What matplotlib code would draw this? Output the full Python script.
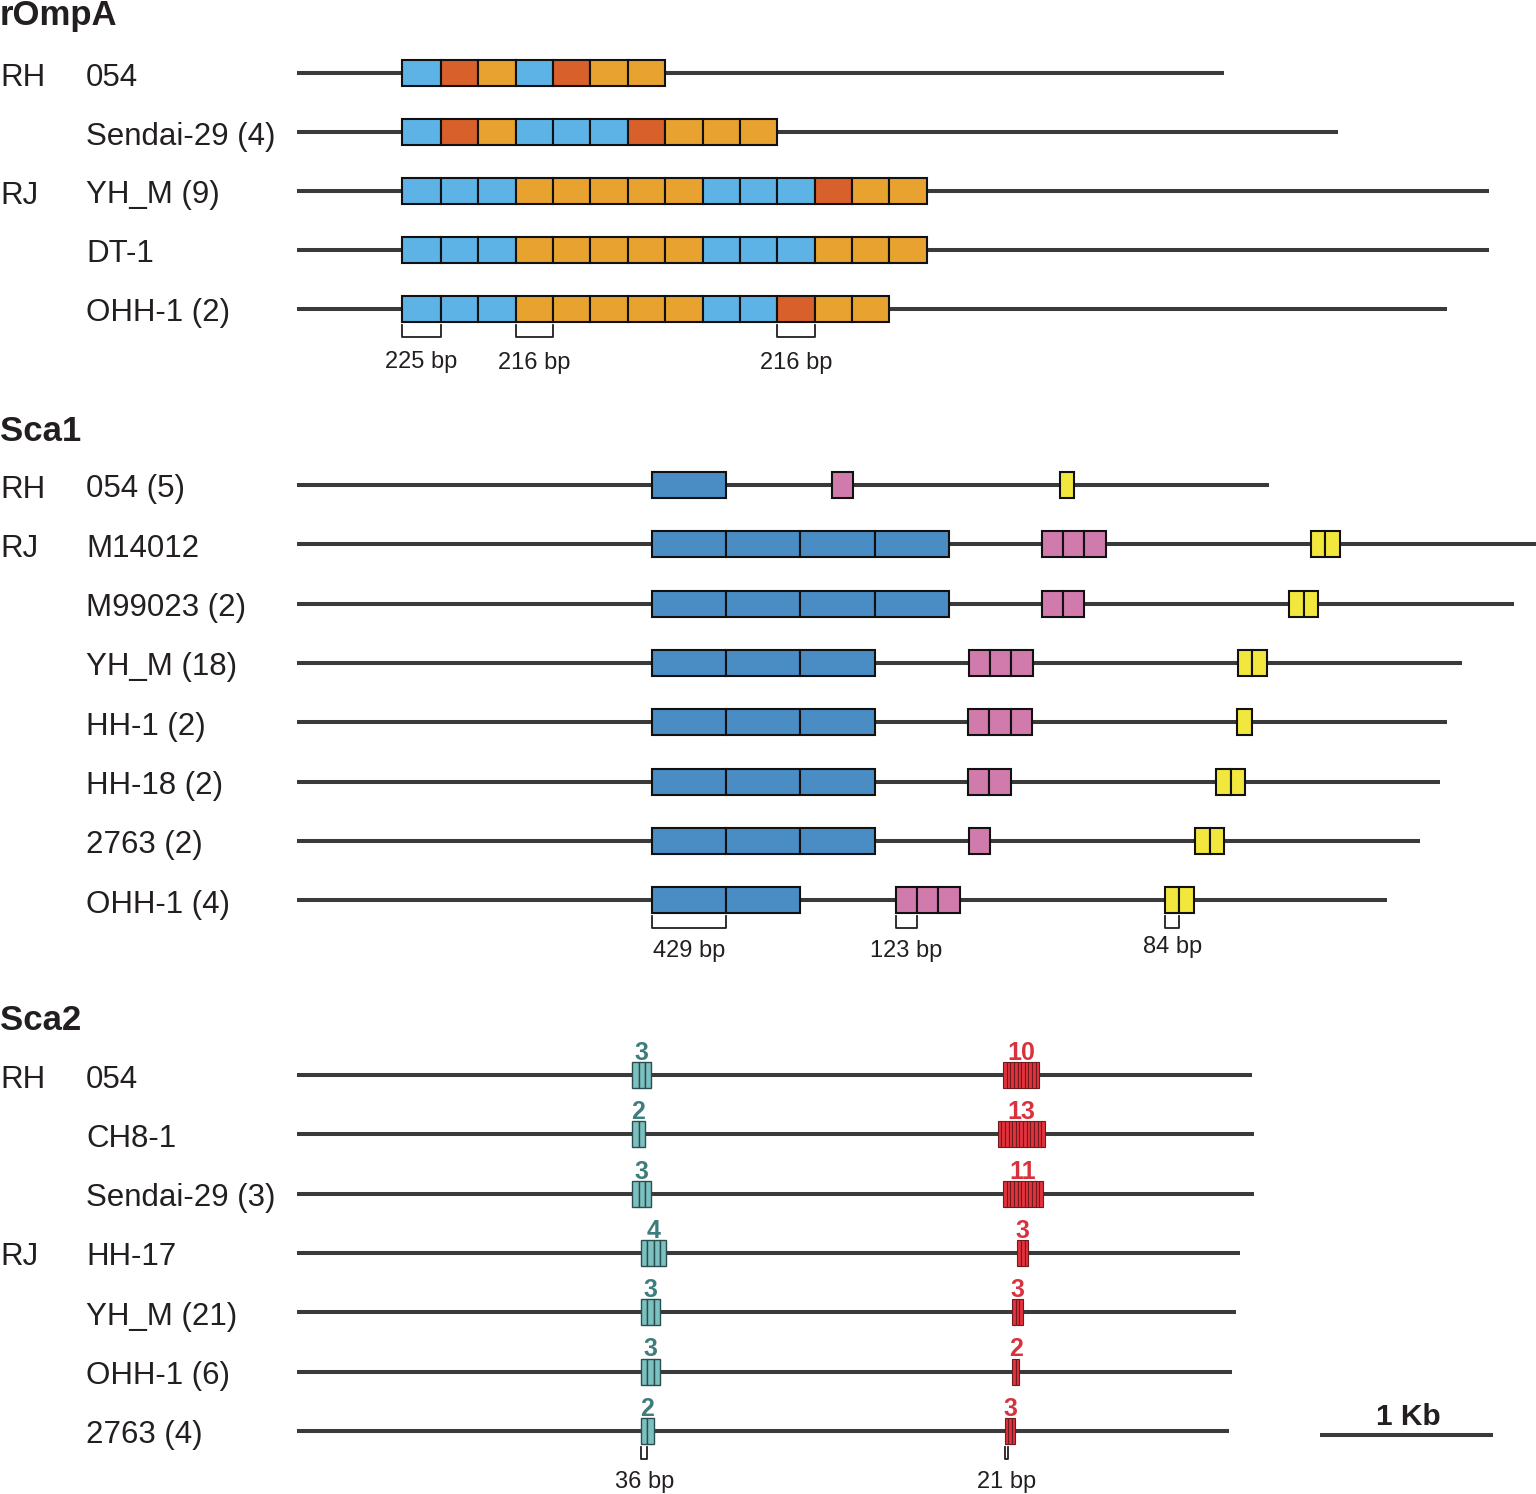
import matplotlib
matplotlib.use('Agg')
import matplotlib.pyplot as plt
from matplotlib.patches import Rectangle

plt.rcParams['font.family'] = ['Liberation Sans', 'DejaVu Sans']

# ---- rOmpA ----
romp_groups = ['RH', '', 'RJ', '', '']
romp_strains = ['054', 'Sendai-29 (4)', 'YH_M (9)', 'DT-1', 'OHH-1 (2)']
romp_len = [5360, 6020, 6890, 6890, 6650]
romp_start = 607
romp_first_bp = 225
romp_unit_bp = 216
romp_repeats = ['BROBROO', 'BROBBBROOO', 'BBBOOOOOBBBROO',
                'BBBOOOOOBBBOOO', 'BBBOOOOOBBROO']

# ---- Sca1 ----
sca1_groups = ['RH', 'RJ', '', '', '', '', '', '']
sca1_strains = ['054 (5)', 'M14012', 'M99023 (2)', 'YH_M (18)', 'HH-1 (2)',
                'HH-18 (2)', '2763 (2)', 'OHH-1 (4)']
sca1_len = [5618, 7300, 7035, 6734, 6647, 6607, 6491, 6301]
sca1_a_start = [2052] * 8
sca1_a_n = [1, 4, 4, 3, 3, 3, 3, 2]
sca1_b_start = [3092, 4306, 4306, 3884, 3879, 3879, 3884, 3462]
sca1_b_n = [1, 3, 2, 3, 3, 2, 1, 3]
sca1_c_start = [4410, 5861, 5734, 5439, 5434, 5312, 5191, 5017]
sca1_c_n = [1, 2, 2, 2, 1, 2, 2, 2]
sca1_unit_bp = [429, 123, 84]

# ---- Sca2 ----
sca2_groups = ['RH', '', '', 'RJ', '', '', '']
sca2_strains = ['054', 'CH8-1', 'Sendai-29 (3)', 'HH-17', 'YH_M (21)',
                'OHH-1 (6)', '2763 (4)']
sca2_len = [5520, 5532, 5532, 5451, 5428, 5405, 5387]
sca2_d_start = [1938, 1938, 1938, 1990, 1990, 1990, 1990]
sca2_d_n = [3, 2, 3, 4, 3, 3, 2]
sca2_e_start = [4081, 4050, 4081, 4164, 4133, 4133, 4090]
sca2_e_n = [10, 13, 11, 3, 3, 2, 3]
sca2_unit_bp = [36, 21]

# layout (pixels; 173 px per kb, genes start at x=297)
PX_KB = 173.0
X0 = 297.0
W, H = 1536, 1494
BOX_H = 26
TXT = '#231f20'
LINE = '#3a3a3a'

romp_col = {'B': '#5db3e6', 'R': '#d8602a', 'O': '#e8a22f'}
sca1_col = ['#4a8cc4', '#d17bad', '#f2e73c']
teal, teal_txt = '#7cc1c1', '#3f7d7d'
red, red_txt = '#e3323c', '#d8323e'

fig = plt.figure(figsize=(W / 100, H / 100), dpi=100)
ax = fig.add_axes([0, 0, 1, 1])
ax.set_xlim(-X0 / PX_KB * 1000, (W - X0) / PX_KB * 1000)
ax.set_ylim(H, 0)
ax.axis('off')

bp_per_px = 1000 / PX_KB


def gene_line(y, length):
    ax.plot([0, length], [y, y], color=LINE, lw=2.9, solid_capstyle='butt', zorder=1)


def blocks(y, start, widths, colors, edge='#111111', lw=1.5):
    x = start
    for w, c in zip(widths, colors):
        ax.add_patch(Rectangle((x, y - BOX_H / 2), w, BOX_H, facecolor=c,
                               edgecolor=edge, lw=lw, zorder=2))
        x += w
    return x


def bracket(y, x1, x2, label, lab_dy=58):
    ax.plot([x1, x1, x2, x2], [y + 16, y + 28, y + 28, y + 16], color=TXT, lw=1.3, zorder=3)
    ax.text((x1 + x2) / 2, y + lab_dy, label, ha='center', va='baseline',
            fontsize=17, color=TXT)


def labels(ys, groups, strains):
    for y, g, s in zip(ys, groups, strains):
        if g:
            ax.text(0 - X0 * bp_per_px, y + 12.5, g, ha='left', va='baseline',
                    fontsize=22.5, color=TXT)
        ax.text((86 - X0) * bp_per_px, y + 12.5, s, ha='left', va='baseline',
                fontsize=22.5, color=TXT)


def title(y, s):
    ax.text(-X0 * bp_per_px, y, s, ha='left', va='baseline', fontsize=25,
            fontweight='bold', color=TXT)


# rOmpA
ys = [73 + 59.0 * i for i in range(len(romp_strains))]
title(ys[0] - 48, 'rOmpA')
labels(ys, romp_groups, romp_strains)
for y, L, rep in zip(ys, romp_len, romp_repeats):
    gene_line(y, L)
    widths = [romp_first_bp] + [romp_unit_bp] * (len(rep) - 1)
    blocks(y, romp_start, widths, [romp_col[c] for c in rep])
yl = ys[-1]
s = romp_start
bracket(yl, s, s + romp_first_bp, '225 bp', lab_dy=59)
s3 = romp_start + romp_first_bp + 2 * romp_unit_bp
bracket(yl, s3, s3 + romp_unit_bp, '216 bp', lab_dy=60)
s10 = romp_start + romp_first_bp + 9 * romp_unit_bp
bracket(yl, s10, s10 + romp_unit_bp, '216 bp', lab_dy=60)

# Sca1
ys = [485 + 59.3 * i for i in range(len(sca1_strains))]
title(ys[0] - 44, 'Sca1')
labels(ys, sca1_groups, sca1_strains)
for i, y in enumerate(ys):
    gene_line(y, sca1_len[i])
    for st, n, u, c in zip([sca1_a_start[i], sca1_b_start[i], sca1_c_start[i]],
                           [sca1_a_n[i], sca1_b_n[i], sca1_c_n[i]],
                           sca1_unit_bp, sca1_col):
        blocks(y, st, [u] * n, [c] * n)
yl = ys[-1]
bracket(yl, sca1_a_start[-1], sca1_a_start[-1] + sca1_unit_bp[0], '429 bp', lab_dy=57)
bracket(yl, sca1_b_start[-1], sca1_b_start[-1] + sca1_unit_bp[1], '123 bp', lab_dy=57)
bracket(yl, sca1_c_start[-1], sca1_c_start[-1] + sca1_unit_bp[2], '84 bp', lab_dy=53)

# Sca2
ys = [1075 + 59.3 * i for i in range(len(sca2_strains))]
title(ys[0] - 45, 'Sca2')
labels(ys, sca2_groups, sca2_strains)
for i, y in enumerate(ys):
    gene_line(y, sca2_len[i])
    nd, ne = sca2_d_n[i], sca2_e_n[i]
    blocks(y, sca2_d_start[i], [sca2_unit_bp[0]] * nd, [teal] * nd, edge='#2b4d4d', lw=1.0)
    blocks(y, sca2_e_start[i], [sca2_unit_bp[1]] * ne, [red] * ne, edge='#6e1a1e', lw=0.8)
    ax.text(sca2_d_start[i] + nd * sca2_unit_bp[0] / 2, y - 15, str(nd), ha='center',
            va='baseline', fontsize=18, fontweight='bold', color=teal_txt)
    ax.text(sca2_e_start[i] + ne * sca2_unit_bp[1] / 2, y - 15, str(ne), ha='center',
            va='baseline', fontsize=18, fontweight='bold', color=red_txt)
yl = ys[-1]
bracket(yl, sca2_d_start[-1], sca2_d_start[-1] + sca2_unit_bp[0], '36 bp', lab_dy=57)
bracket(yl, sca2_e_start[-1], sca2_e_start[-1] + sca2_unit_bp[1], '21 bp', lab_dy=57)

# scale bar
sb0 = 5913
ax.plot([sb0, sb0 + 1000], [1435, 1435], color=LINE, lw=2.9, solid_capstyle='butt')
ax.text(sb0 + 510, 1425, '1 Kb', ha='center', va='baseline', fontsize=21.5,
        fontweight='bold', color=TXT)

fig.savefig('out.png', dpi=100)
